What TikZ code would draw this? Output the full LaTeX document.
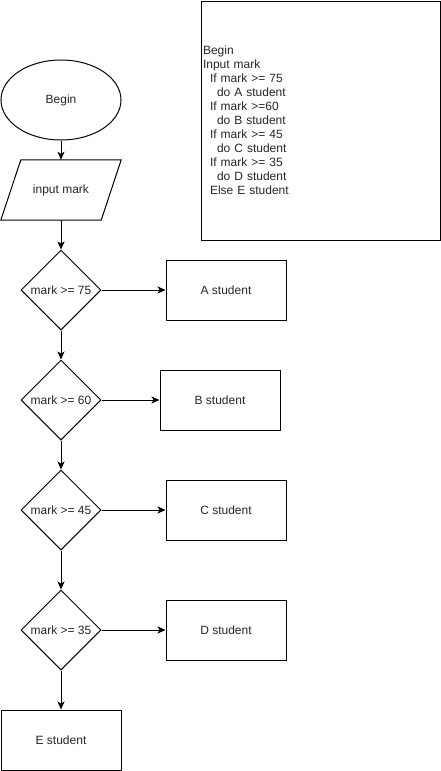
\documentclass[tikz,border=0pt]{standalone}
\usepackage{fontspec}
\setmainfont{Liberation Sans}
\usetikzlibrary{shapes.geometric,arrows.meta}
\begin{document}
\begin{tikzpicture}[x=1pt,y=-1pt,
  every node/.style={font=\fontsize{12}{14}\selectfont, text=black!85},
  line/.style={line width=1pt, draw=black},
  arr/.style={line, -{Stealth[length=8pt,width=7pt,inset=2pt]}},
  startbox/.style={ellipse, line, minimum width=120pt, minimum height=80pt, inner sep=0pt},
  iobox/.style={rectangle, minimum width=100pt, minimum height=60pt, inner sep=0pt},
  decbox/.style={diamond, line, minimum width=80pt, minimum height=80pt, aspect=1, inner sep=0pt},
  procbox/.style={rectangle, line, minimum width=120pt, minimum height=60pt, inner sep=0pt},
  notebox/.style={rectangle, line, minimum width=239pt, minimum height=239pt, text width=235pt, inner sep=2pt, align=left}
]
\useasboundingbox (0,0) rectangle (441,771);

\node[notebox] (note) at (320.5,120.5) {Begin\\Input mark\\\hspace*{7pt}If mark >= 75\\\hspace*{14pt}do A student\\\hspace*{7pt}If mark >=60\\\hspace*{14pt}do B student\\\hspace*{7pt}If mark >= 45\\\hspace*{14pt}do C student\\\hspace*{7pt}If mark >= 35\\\hspace*{14pt}do D student\\\hspace*{7pt}Else E student};

\node[startbox] (begin) at (61,100) {Begin};
\node[iobox] (input) at (61,190) {input mark};
\draw[line] ([xshift=10pt]input.north west) -- ([xshift=10pt]input.north east) -- ([xshift=-10pt]input.south east) -- ([xshift=-10pt]input.south west) -- cycle;

\node[decbox] (d1) at (61,290) {mark >= 75};
\node[decbox] (d2) at (61,400) {mark >= 60};
\node[decbox] (d3) at (61,510) {mark >= 45};
\node[decbox] (d4) at (61,630) {mark >= 35};

\node[procbox] (a) at (226,290) {A student};
\node[procbox] (b) at (220,400) {B student};
\node[procbox] (c) at (226,510) {C student};
\node[procbox] (d) at (226,630) {D student};
\node[procbox] (e) at (61,740) {E student};

\draw[arr] (begin) -- (input);
\draw[arr] (input.south) -- (d1.north);
\draw[arr] (d1) -- (a);
\draw[arr] (d1) -- (d2);
\draw[arr] (d2) -- (b);
\draw[arr] (d2) -- (d3);
\draw[arr] (d3) -- (c);
\draw[arr] (d3) -- (d4);
\draw[arr] (d4) -- (d);
\draw[arr] (d4) -- (e);
\end{tikzpicture}
\end{document}
